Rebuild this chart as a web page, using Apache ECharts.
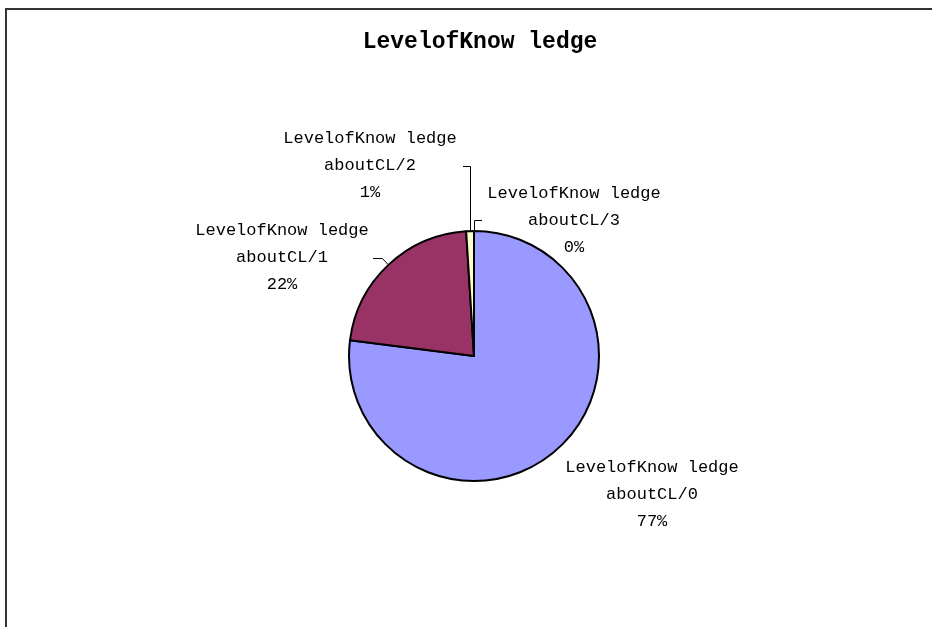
<!DOCTYPE html>
<html>
<head>
<meta charset="utf-8">
<style>
  html, body { margin: 0; padding: 0; background: #fff; }
  #chart { width: 932px; height: 627px; }
</style>
<script src="https://cdn.jsdelivr.net/npm/echarts@6/dist/echarts.min.js"></script>
</head>
<body>
<div id="chart"></div>
<script>
// Survey answers: share of respondents per knowledge level
const titleText = 'LevelofKnow ledge';
const categories = [
  'LevelofKnow ledge\naboutCL/0',
  'LevelofKnow ledge\naboutCL/1',
  'LevelofKnow ledge\naboutCL/2',
  'LevelofKnow ledge\naboutCL/3'
];
const shares = [77, 22, 1, 0];
const sliceColors = ['#9999FF', '#993366', '#FFFFCC', '#CCFFFF'];

// Where each label block sits (pixel centre) and how its leader line runs
const labelSpots = [
  { cx: 652, cy: 494, line: 'none' },
  { cx: 282, cy: 257, line: 'left', elbowDx: -6, elbowY: 258.5, endX: 373 },
  { cx: 370, cy: 165, line: 'up-left', elbowY: 166.5, endX: 463 },
  { cx: 574, cy: 220, line: 'up-right', elbowY: 220.5, endX: 482 }
];

const chart = echarts.init(document.getElementById('chart'), null, { renderer: 'canvas' });

const labelFont = {
  fontFamily: '"Liberation Mono", "DejaVu Sans Mono", monospace',
  fontSize: 17,
  lineHeight: 27,
  color: '#000'
};

chart.setOption({
  backgroundColor: '#fff',
  animation: false,
  graphic: [{
    type: 'rect',
    silent: true,
    shape: { x: 6, y: 9, width: 1200, height: 1200 },
    style: { fill: 'none', stroke: '#333', lineWidth: 2 }
  }],
  title: {
    text: titleText,
    left: 475,
    top: 26,
    textAlign: 'center',
    textStyle: {
      fontFamily: '"Liberation Mono", "DejaVu Sans Mono", monospace',
      fontWeight: 'bold',
      fontSize: 23,
      color: '#000'
    }
  },
  series: [{
    type: 'pie',
    center: [474, 356],
    radius: 125,
    startAngle: 90,
    clockwise: true,
    avoidLabelOverlap: false,
    minShowLabelAngle: 0,
    stillShowZeroSum: true,
    itemStyle: { borderColor: '#000', borderWidth: 2 },
    emphasis: { disabled: true },
    label: Object.assign({
      show: true,
      position: 'outside',
      align: 'center',
      formatter: p => p.name + '\n' + Math.round(p.percent) + '%'
    }, labelFont),
    labelLine: {
      show: true,
      length: 20,
      length2: 10,
      lineStyle: { color: '#000', width: 1 }
    },
    labelLayout: function (params) {
      const spot = labelSpots[params.dataIndex];
      const out = { x: spot.cx, y: spot.cy, align: 'center', verticalAlign: 'middle' };
      const pts = params.labelLinePoints;
      if (spot.line === 'none' || !pts) {
        out.labelLinePoints = pts ? [pts[0], pts[0], pts[0]] : undefined;
        return out;
      }
      const p0 = pts[0];
      if (spot.line === 'left') {
        out.labelLinePoints = [p0, [p0[0] + spot.elbowDx, spot.elbowY], [spot.endX, spot.elbowY]];
      } else {
        const vx = Math.round(p0[0]) + 0.5;
        out.labelLinePoints = [[vx, p0[1]], [vx, spot.elbowY], [spot.endX, spot.elbowY]];
      }
      return out;
    },
    data: categories.map((name, i) => ({
      name: name,
      value: shares[i],
      itemStyle: { color: sliceColors[i] }
    }))
  }]
});
</script>
</body>
</html>
